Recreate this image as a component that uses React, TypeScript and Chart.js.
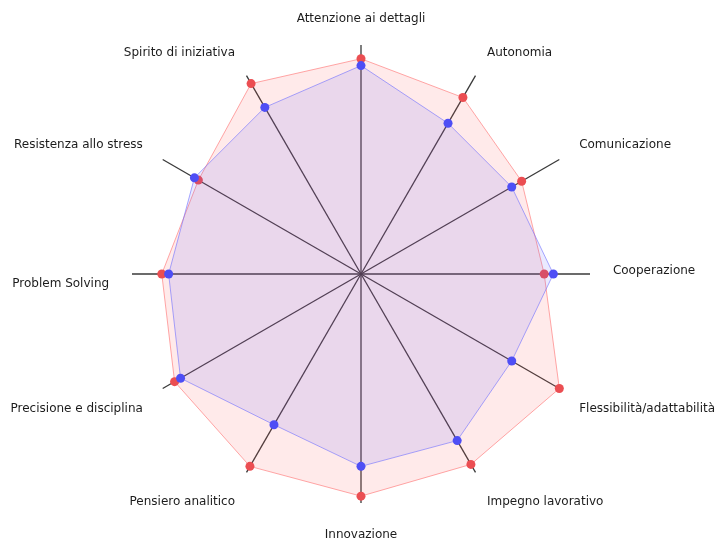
import React, { useEffect, useRef } from "react";
import { Chart, registerables } from "chart.js";

Chart.register(...registerables);

const categories: string[] = [
  "Attenzione ai dettagli",
  "Autonomia",
  "Comunicazione",
  "Cooperazione",
  "Flessibilità/adattabilità",
  "Impegno lavorativo",
  "Innovazione",
  "Pensiero analitico",
  "Precisione e disciplina",
  "Problem Solving",
  "Resistenza allo stress",
  "Spirito di iniziativa",
];

const seriesRed: number[] = [94, 89, 81, 80, 100, 96, 97, 97, 94, 87, 82, 96];
const seriesBlue: number[] = [91, 76, 76, 84, 76, 84, 84, 76, 91, 84, 84, 84];

const scaleMin = 0;
const scaleMax = 100;

const labelPlugin = {
  id: "spiderLabels",
  afterDraw(chart: any) {
    const scale = chart.scales.r;
    if (!scale) return;
    const ctx = chart.ctx;
    ctx.save();
    ctx.font = '12px "DejaVu Sans", sans-serif';
    ctx.fillStyle = "#1c1c1c";
    ctx.textBaseline = "alphabetic";
    const dist = scale.drawingArea * 1.1;
    const ascent = 12.5;
    categories.forEach((label, i) => {
      const p = scale.getPointPosition(i, dist);
      const dx = p.x - scale.xCenter;
      if (Math.abs(dx) < 1) ctx.textAlign = "center";
      else if (dx < 0) ctx.textAlign = "right";
      else ctx.textAlign = "left";
      const y = p.y > scale.yCenter ? p.y + ascent : p.y;
      ctx.fillText(label, p.x, y);
    });
    ctx.restore();
  },
};

export default function App() {
  const ref = useRef<HTMLCanvasElement | null>(null);
  useEffect(() => {
    if (!ref.current) return;
    const chart = new Chart(ref.current, {
      type: "radar",
      data: {
        labels: categories,
        datasets: [
          {
            label: "A",
            data: seriesRed,
            order: 1,
            fill: true,
            backgroundColor: "rgba(255,85,85,0.12)",
            borderColor: "rgba(255,110,110,0.6)",
            borderWidth: 1,
            pointBackgroundColor: "rgb(235,78,82)",
            pointBorderColor: "rgb(235,78,82)",
            pointBorderWidth: 0,
            pointRadius: 4.5,
          },
          {
            label: "B",
            data: seriesBlue,
            order: 0,
            fill: true,
            backgroundColor: "rgba(85,85,255,0.12)",
            borderColor: "rgba(110,110,255,0.6)",
            borderWidth: 1,
            pointBackgroundColor: "rgb(78,78,245)",
            pointBorderColor: "rgb(78,78,245)",
            pointBorderWidth: 0,
            pointRadius: 4.5,
          },
        ],
      },
      options: {
        responsive: false,
        animation: false,
        layout: { padding: { top: 45, bottom: 37, left: 2, right: 0 } },
        plugins: {
          legend: { display: false },
          tooltip: { enabled: false },
        },
        elements: { line: { tension: 0 } },
        scales: {
          r: {
            min: scaleMin,
            max: scaleMax,
            ticks: { display: false },
            grid: { display: false },
            pointLabels: { display: false },
            angleLines: { display: true, color: "#3a3a3a", lineWidth: 1.3 },
          },
        },
      },
      plugins: [labelPlugin],
    });
    return () => chart.destroy();
  }, []);
  return (
    <div style={{ position: "fixed", left: 0, top: 0, width: 720, height: 541, background: "#fff" }}>
      <canvas ref={ref} width={720} height={541} />
    </div>
  );
}
